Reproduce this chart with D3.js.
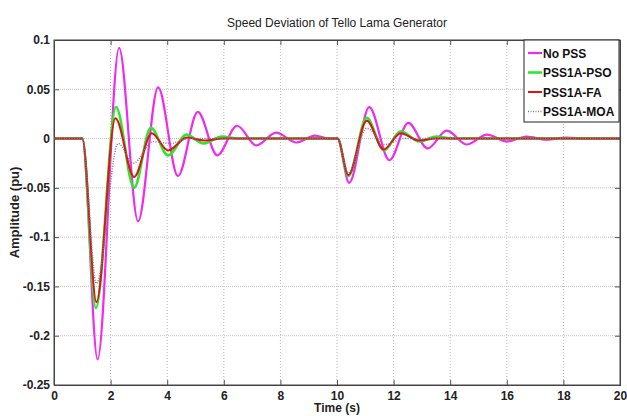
<!DOCTYPE html>
<html>
<head>
<meta charset="utf-8">
<script src="https://cdn.jsdelivr.net/npm/d3@7"></script>
<style>
  body { margin: 0; background: #fff; }
  svg { display: block; font-family: "Liberation Sans", Arial, sans-serif; }
</style>
</head>
<body>
<div id="chart"></div>
<script>
// key points (time in s, speed deviation in pu)
var noPssT = [0, 1.0, 1.54, 2.3, 2.97, 3.68, 4.38, 5.08, 5.77, 6.47, 7.15, 7.85, 8.57, 9.22, 9.7, 10.02, 10.43, 11.14, 11.85, 12.52, 13.2, 13.88, 14.58, 15.3, 16.0, 16.7, 17.4, 18.1, 18.8, 20];
var noPssV = [0, 0, -0.224, 0.092, -0.084, 0.052, -0.038, 0.027, -0.017, 0.013, -0.007, 0.006, -0.004, 0.003, 0, 0, -0.045, 0.032, -0.022, 0.016, -0.010, 0.008, -0.006, 0.004, -0.003, 0.002, -0.001, 0.001, 0, 0];

var psoT = [0, 1.0, 1.48, 2.19, 2.83, 3.42, 4.03, 4.69, 5.27, 5.93, 6.5, 10.02, 10.4, 11.05, 11.66, 12.25, 12.9, 13.5, 14.1, 20];
var psoV = [0, 0, -0.172, 0.032, -0.05, 0.011, -0.017, 0.004, -0.005, 0.002, 0, 0, -0.038, 0.021, -0.012, 0.0075, -0.003, 0.002, 0, 0];

var faT = [0, 1.0, 1.5, 2.17, 2.83, 3.45, 4.03, 4.7, 5.3, 6.0, 10.02, 10.4, 11.05, 11.65, 12.25, 12.9, 13.5, 20];
var faV = [0, 0, -0.166, 0.0205, -0.039, 0.0055, -0.012, 0.001, -0.002, 0, 0, -0.037, 0.018, -0.011, 0.0055, -0.002, 0, 0];

var moaT = [0, 1.0, 1.5, 2.27, 2.8, 3.5, 4.1, 4.8, 10.02, 10.4, 11.05, 11.7, 12.4, 20];
var moaV = [0, 0, -0.147, -0.005, -0.025, -0.003, -0.005, 0, 0, -0.035, 0.0105, -0.006, 0, 0];

var seriesNames = ["No PSS", "PSS1A-PSO", "PSS1A-FA", "PSS1A-MOA"];

var xTicks = [0, 2, 4, 6, 8, 10, 12, 14, 16, 18, 20];
var yTicks = [-0.25, -0.2, -0.15, -0.1, -0.05, 0, 0.05, 0.1];
var yTickLabels = ["-0.25", "-0.2", "-0.15", "-0.1", "-0.05", "0", "0.05", "0.1"];

var W = 627, H = 416;
var margin = {top: 40, right: 7, bottom: 31, left: 54};
var w = W - margin.left - margin.right;
var h = H - margin.top - margin.bottom;

var svg = d3.select("#chart").append("svg")
    .attr("width", W)
    .attr("height", H);

var g = svg.append("g")
    .attr("transform", "translate(" + margin.left + "," + margin.top + ")");

var x = d3.scaleLinear().domain([0, 20]).range([0, w]);
var y = d3.scaleLinear().domain([-0.25, 0.1]).range([h, 0]);

// grid
g.append("g").selectAll("line")
    .data(xTicks.slice(1, -1))
    .enter().append("line")
    .attr("x1", function(d){ return x(d); })
    .attr("x2", function(d){ return x(d); })
    .attr("y1", 0).attr("y2", h)
    .attr("stroke", "#b8b8b8")
    .attr("stroke-dasharray", "1,2");

g.append("g").selectAll("line")
    .data(yTicks.slice(1, -1))
    .enter().append("line")
    .attr("x1", 0).attr("x2", w)
    .attr("y1", function(d){ return y(d); })
    .attr("y2", function(d){ return y(d); })
    .attr("stroke", "#c4c4c4")
    .attr("stroke-dasharray", "1,1");

// axes, ticks pointing in like matlab
var xAxis = g.append("g")
    .attr("transform", "translate(0," + h + ")")
    .call(d3.axisBottom(x).tickValues(xTicks).tickSize(-5).tickPadding(6).tickFormat(d3.format("d")));
var yAxis = g.append("g")
    .call(d3.axisLeft(y).tickValues(yTicks).tickSize(-5).tickPadding(4)
        .tickFormat(function(d, i){ return yTickLabels[i]; }));
g.append("g")
    .call(d3.axisTop(x).tickValues(xTicks).tickSize(-5).tickFormat(""));
g.append("g")
    .attr("transform", "translate(" + w + ",0)")
    .call(d3.axisRight(y).tickValues(yTicks).tickSize(-5).tickFormat(""));

g.selectAll(".domain").attr("stroke", "#444");
g.selectAll(".tick line").attr("stroke", "#555");
g.selectAll(".tick text")
    .attr("font-size", "12px")
    .attr("font-weight", "bold")
    .attr("fill", "#222");

// curves
var line = d3.line()
    .x(function(d){ return x(d[0]); })
    .y(function(d){ return y(d[1]); })
    .curve(d3.curveMonotoneX);

function pts(t, v) {
    return t.map(function(d, i){ return [d, v[i]]; });
}

var series = [
    {name: seriesNames[0], data: pts(noPssT, noPssV), color: "#ee2cee", width: 2.2, dash: null},
    {name: seriesNames[1], data: pts(psoT, psoV), color: "#2ee62e", width: 2.6, dash: null},
    {name: seriesNames[2], data: pts(faT, faV), color: "#dc1414", width: 2, dash: null},
    {name: seriesNames[3], data: pts(moaT, moaV), color: "#7d7d99", width: 1.6, dash: "1,1.5"}
];

g.selectAll(".curve")
    .data(series)
    .enter().append("path")
    .attr("class", "curve")
    .attr("d", function(d){ return line(d.data); })
    .attr("fill", "none")
    .attr("stroke", function(d){ return d.color; })
    .attr("stroke-width", function(d){ return d.width; })
    .attr("stroke-dasharray", function(d){ return d.dash; });

// frame on top
g.append("rect")
    .attr("width", w).attr("height", h)
    .attr("fill", "none")
    .attr("stroke", "#444");

// legend
var lg = g.append("g").attr("transform", "translate(" + (w - 96) + ",0)");
lg.append("rect")
    .attr("width", 95).attr("height", 82)
    .attr("fill", "#fff")
    .attr("stroke", "#222");
var item = lg.selectAll(".item")
    .data(series)
    .enter().append("g")
    .attr("transform", function(d, i){ return "translate(0," + (13 + i * 19.5) + ")"; });
item.append("line")
    .attr("x1", 4).attr("x2", 18)
    .attr("stroke", function(d){ return d.color; })
    .attr("stroke-width", function(d){ return d.width; })
    .attr("stroke-dasharray", function(d){ return d.dash; });
item.append("text")
    .attr("x", 19).attr("y", 4.5)
    .attr("font-size", "12px")
    .attr("font-weight", "bold")
    .attr("fill", "#111")
    .text(function(d){ return d.name; });

// titles
svg.append("text")
    .attr("x", margin.left + w / 2).attr("y", 27)
    .attr("text-anchor", "middle")
    .attr("font-size", "12px")
    .attr("fill", "#222")
    .text("Speed Deviation of Tello Lama Generator");

svg.append("text")
    .attr("x", margin.left + w / 2).attr("y", 412)
    .attr("text-anchor", "middle")
    .attr("font-size", "12px")
    .attr("font-weight", "bold")
    .attr("fill", "#222")
    .text("Time (s)");

svg.append("text")
    .attr("transform", "translate(19," + (margin.top + h / 2) + ") rotate(-90)")
    .attr("text-anchor", "middle")
    .attr("font-size", "13px")
    .attr("font-weight", "bold")
    .attr("fill", "#222")
    .text("Amplitude (pu)");
</script>
</body>
</html>
